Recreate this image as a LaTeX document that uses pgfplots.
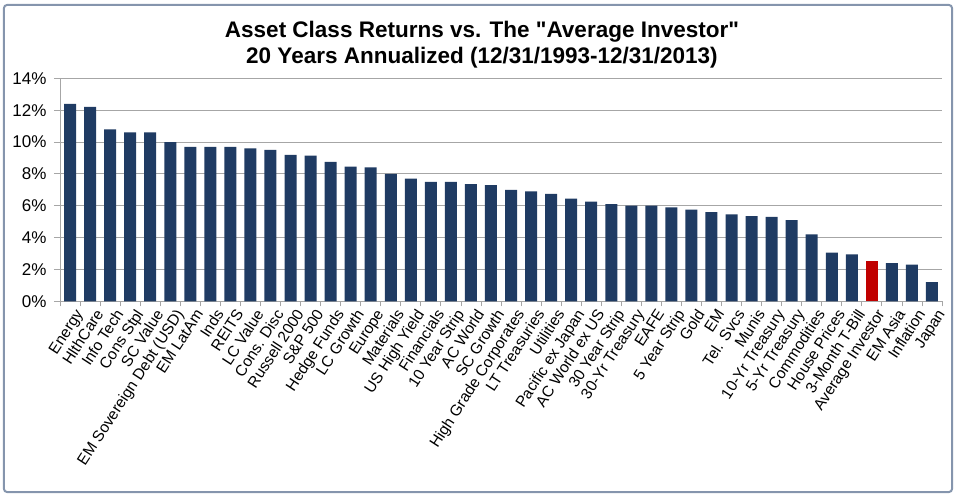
\documentclass[border=0pt]{standalone}
\usepackage{pgfplots}
\pgfplotsset{compat=1.18}
\usepackage{pgfplotstable}
\usepackage{fontspec}
\setmainfont{Liberation Sans}
\definecolor{navy}{HTML}{1F3B63}
\definecolor{redbar}{HTML}{C00000}
\definecolor{framec}{HTML}{8595AD}
\definecolor{gridc}{HTML}{A6A6A6}

\pgfplotstableread{
idx val
0 12.4
1 12.2
2 10.8
3 10.6
4 10.6
5 10.0
6 9.7
7 9.7
8 9.7
9 9.6
10 9.5
11 9.2
12 9.15
13 8.75
14 8.45
15 8.4
16 8.0
17 7.7
18 7.5
19 7.5
20 7.35
21 7.3
22 7.0
23 6.9
24 6.75
25 6.45
26 6.25
27 6.1
28 6.0
29 6.0
30 5.9
31 5.75
32 5.6
33 5.45
34 5.35
35 5.3
36 5.1
37 4.2
38 3.05
39 2.95
41 2.4
42 2.3
43 1.2
}\assetdata

\pgfplotstableread{
idx val
40 2.5
}\investordata

\begin{document}
\begin{tikzpicture}
\begin{axis}[
  scale only axis,
  width=882pt, height=223pt,
  xmin=-0.5, xmax=43.5,
  ymin=0, ymax=14,
  axis x line*=bottom,
  axis y line*=left,
  axis line style={draw=gridc, line width=0.8pt},
  ytick={0,2,...,14},
  yticklabel={\pgfmathprintnumber{\tick}\%},
  /pgf/number format/assume math mode=true,
  yticklabel style={font=\fontsize{17}{17}\selectfont, xshift=-4pt},
  ymajorgrids,
  grid style={draw=gridc, line width=1pt},
  tick align=outside,
  major tick length=6pt,
  minor tick length=5pt,
  tick style={draw=gridc, line width=0.8pt},
  xtick={0,...,43},
  major x tick style={draw=none},
  minor xtick={-0.5,0.5,...,43.5},
  xticklabels={Energy,HlthCare,Info Tech,Cons Stpl,SC Value,EM Sovereign Debt (USD),EM LatAm,Inds,REITS,LC Value,Cons. Disc,Russell 2000,S\&P 500,Hedge Funds,LC Growth,Europe,Materials,US High Yield,Financials,10 Year Strip,AC World,SC Growth,High Grade Corporates,LT Treasuries,Utilities,Pacific ex Japan,AC World ex US,30 Year Strip,30-Yr Treasury,EAFE,5 Year Strip,Gold,EM,Tel. Svcs,Munis,10-Yr Treasury,5-Yr Treasury,Commodities,House Prices,3-Month T-Bill,Average Investor,EM Asia,Inflation,Japan},
  xticklabel style={font=\fontsize{15.5}{15.5}\selectfont, rotate=57, anchor=north east, inner sep=1pt, yshift=-3pt, xshift=3pt},
  ybar, bar width=12pt,
  every axis plot/.append style={bar shift=0pt},
  clip=false,
]
\addplot[fill=navy, draw=none] table[x=idx, y=val] {\assetdata};
\addplot[fill=redbar, draw=none] table[x=idx, y=val] {\investordata};
\end{axis}
\node[anchor=base, font=\fontsize{22.5}{22.5}\bfseries\selectfont] at ([shift={(-19pt,41pt)}]current axis.north) {Asset Class Returns vs. The \textquotedbl Average Investor\textquotedbl};
\node[anchor=base, font=\fontsize{22.5}{22.5}\bfseries\selectfont] at ([shift={(-19pt,15pt)}]current axis.north) {20 Years Annualized (12/31/1993-12/31/2013)};
\draw[framec, line width=2pt, rounded corners=3pt] ([shift={(-56pt,-190.7pt)}]current axis.south west) rectangle ([shift={(10pt,73.3pt)}]current axis.north east);
\pgfresetboundingbox
\path[use as bounding box] ([shift={(-60pt,-198.7pt)}]current axis.south west) rectangle ([shift={(21pt,78.3pt)}]current axis.north east);
\end{tikzpicture}
\end{document}
